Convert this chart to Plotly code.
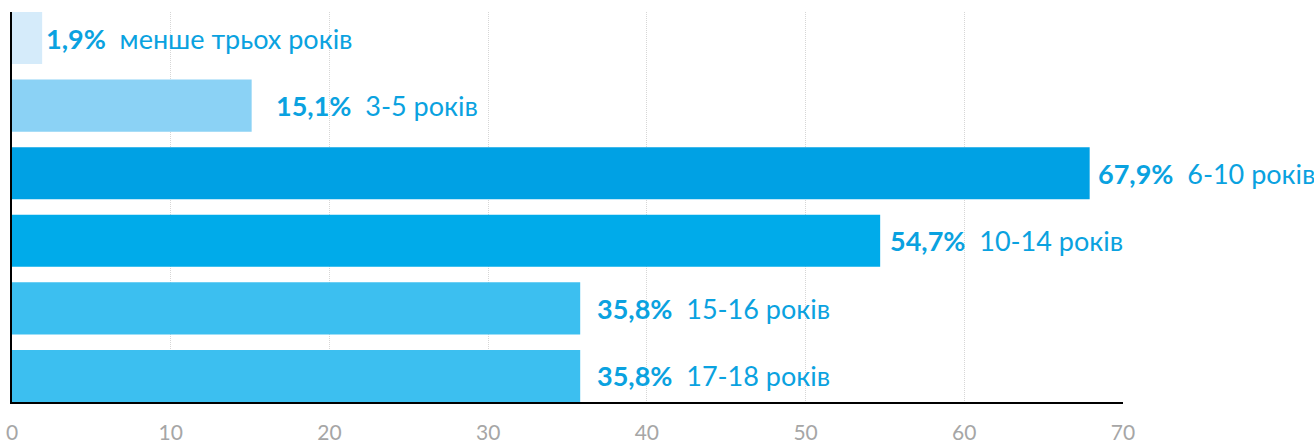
import plotly.graph_objects as go

categories = ["менше трьох років", "3-5 років", "6-10 років", "10-14 років", "15-16 років", "17-18 років"]
values = [1.9, 15.1, 67.9, 54.7, 35.8, 35.8]
pct_labels = ["1,9%", "15,1%", "67,9%", "54,7%", "35,8%", "35,8%"]
tick_vals = [0, 10, 20, 30, 40, 50, 60, 70]
tick_text = ["0", "10", "20", "30", "40", "50", "60", "70"]

bar_colors = ["#d5ebfa", "#8bd2f5", "#00a1e4", "#00abea", "#3cbff0", "#3cbff0"]
label_pad = [2, 22, 6, 8, 15, 15]
text_color = "#0aa2e0"
font_family = "Lato, 'Open Sans', sans-serif"

fig = go.Figure()
fig.add_trace(go.Bar(
    x=values,
    y=categories,
    orientation="h",
    marker=dict(color=bar_colors, line=dict(width=0)),
    hoverinfo="skip",
))

for cat, val, pct, pad in zip(categories, values, pct_labels, label_pad):
    fig.add_annotation(
        x=val, y=cat, xref="x", yref="y",
        text=f"<b>{pct}</b>  {cat}",
        showarrow=False, xanchor="left", yanchor="middle",
        xshift=pad, yshift=0,
        font=dict(family=font_family, size=27, color=text_color),
    )

fig.update_layout(
    width=1314, height=446,
    margin=dict(l=12, r=191, t=12, b=44, autoexpand=False),
    paper_bgcolor="white", plot_bgcolor="white",
    bargap=0.23,
    showlegend=False,
    font=dict(family=font_family),
)

fig.update_xaxes(
    range=[0, 70], automargin=False,
    tickmode="array", tickvals=tick_vals, ticktext=tick_text,
    tickfont=dict(family=font_family, size=21, color="#a6a6a6"),
    ticks="", ticklabelstandoff=11,
    showgrid=True, gridcolor="#d6d6d6", gridwidth=1, griddash="1px,1px",
    zeroline=False,
    showline=True, linecolor="black", linewidth=2,
    layer="above traces",
)
fig.update_yaxes(
    categoryorder="array", categoryarray=categories,
    range=[5.385, -0.385], automargin=False,
    showticklabels=False, ticks="",
    showgrid=False, zeroline=False,
    showline=True, linecolor="black", linewidth=2,
    layer="above traces",
)

fig.write_html(
    "out.html",
    config={"displayModeBar": False},
    post_script="document.body.style.margin='0';document.body.style.overflow='hidden';",
)
